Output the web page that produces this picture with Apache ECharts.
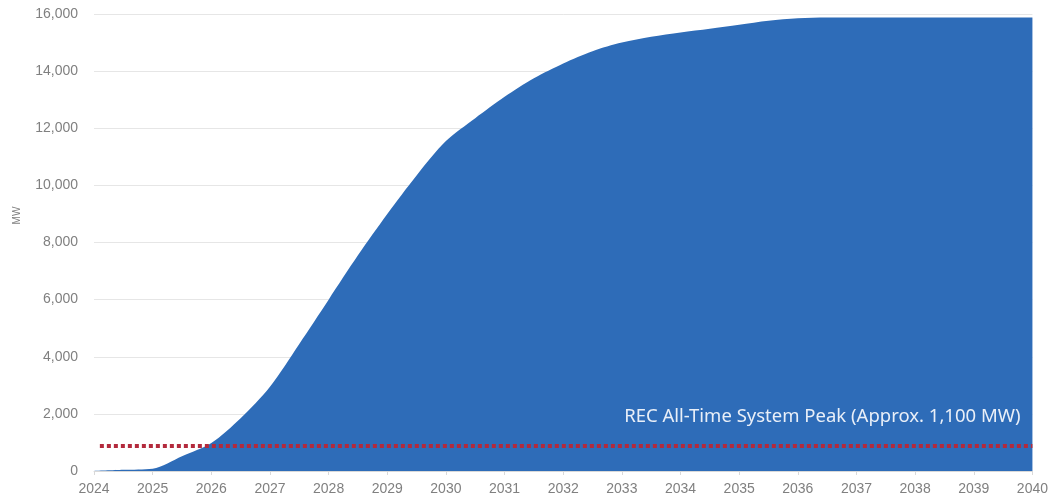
<!DOCTYPE html>
<html>
<head>
<meta charset="utf-8">
<script src="https://cdn.jsdelivr.net/npm/echarts@6/dist/echarts.min.js"></script>
<style>
html,body{margin:0;padding:0;background:#fff;}
#chart{width:1051px;height:500px;}
</style>
</head>
<body>
<div id="chart"></div>
<script>
// Years (half-year resolution) and cumulative MW
const years = [2024, 2024.5, 2025, 2025.5, 2026, 2026.5, 2027, 2027.5, 2028, 2028.5, 2029, 2029.5, 2030, 2030.5, 2031, 2031.5, 2032, 2032.5, 2033, 2033.5, 2034, 2034.5, 2035, 2035.5, 2036, 2036.5, 2037, 2038, 2039, 2040];
const mw    = [0,    40,     80,   520,    980,  1850,   2950, 4450,   6000, 7550,   9000, 10350,  11550, 12350,  13100, 13750,  14270, 14700,  15000, 15200,  15350, 15480,  15620, 15760,  15850, 15880,  15880, 15880, 15880, 15880];
const peakValue = 900;
const peakStart = 2024.1;
const peakEnd = 2040;
const peakLabel = 'REC All-Time System Peak (Approx. 1,100 MW)';
const yTicks = [0, 2000, 4000, 6000, 8000, 10000, 12000, 14000, 16000];
const yName = 'MW';

const chart = echarts.init(document.getElementById('chart'), null, {renderer: 'canvas'});
const grey = '#808080';
chart.setOption({
  animation: false,
  grid: {left: 94, right: 16, top: 14, bottom: 29},
  xAxis: {
    type: 'value', min: 2024, max: 2040, interval: 1,
    axisLine: {show: true, lineStyle: {color: '#d9d9d9'}},
    axisTick: {show: true, length: 4, lineStyle: {color: '#d9d9d9'}},
    splitLine: {show: false},
    axisLabel: {color: grey, fontSize: 14, fontFamily: 'Liberation Sans', margin: 11, formatter: v => String(v)}
  },
  yAxis: {
    type: 'value', min: yTicks[0], max: yTicks[yTicks.length - 1], interval: 2000,
    name: yName, nameLocation: 'middle', nameRotate: 90, nameGap: 72,
    nameTextStyle: {color: grey, fontSize: 10, fontFamily: 'Liberation Sans', padding: [0, 0, 0, 54]},
    axisLine: {show: false}, axisTick: {show: false},
    splitLine: {lineStyle: {color: '#e6e6e6', width: 1}},
    axisLabel: {color: grey, fontSize: 14, fontFamily: 'Liberation Sans', margin: 16,
      formatter: v => v.toLocaleString('en-US')}
  },
  series: [{
    type: 'line',
    data: years.map((y, i) => [y, mw[i]]),
    smooth: 0.3,
    symbol: 'none',
    lineStyle: {width: 0},
    areaStyle: {color: '#2e6cb8', opacity: 1},
    z: 2,
    markLine: {
      silent: true, symbol: 'none',
      data: [[{coord: [peakStart, peakValue]}, {coord: [peakEnd, peakValue]}]],
      lineStyle: {color: '#b32a3c', type: [4, 3], width: 4, cap: 'butt'},
      label: {
        show: true, position: 'insideEndTop', formatter: peakLabel,
        color: '#e9eff8', fontSize: 18.5, fontFamily: 'Noto Sans', distance: [12, 19]
      },
      z: 5
    }
  }]
});
</script>
</body>
</html>
